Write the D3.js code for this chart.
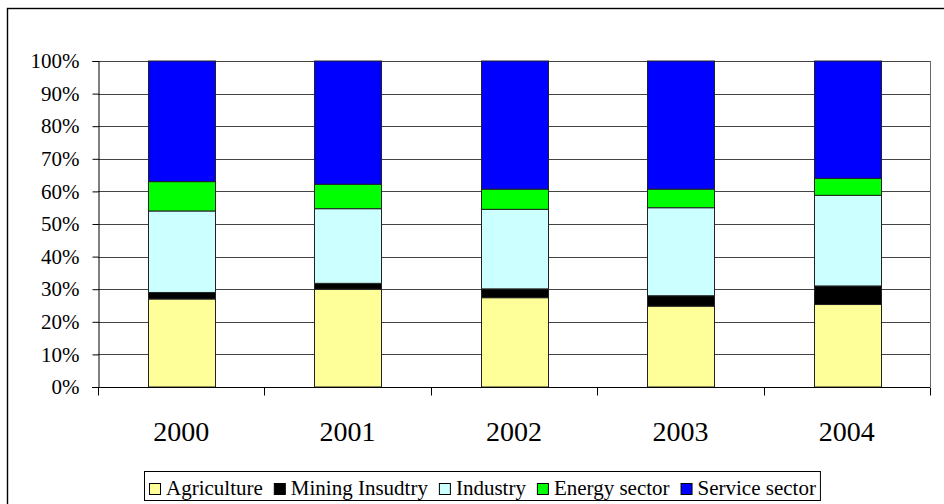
<!DOCTYPE html>
<html>
<head>
<meta charset="utf-8">
<script src="https://cdn.jsdelivr.net/npm/d3@7"></script>
<style>
  body { margin: 0; background: #fff; }
  svg { display: block; }
  text { font-family: "Liberation Serif", "Times New Roman", serif; }
</style>
</head>
<body>
<script>
// ---------------- 100% stacked bars, sectors by year ----------------
let years       = ["2000", "2001", "2002", "2003", "2004"];
let sectors     = ["Agriculture", "Mining Insudtry", "Industry", "Energy sector", "Service sector"];
let agriculture = [27.0, 30.0, 27.4, 24.8, 25.3];
let mining      = [2.0, 1.8, 2.7, 3.2, 5.7];
let industry    = [25.0, 22.9, 24.4, 27.0, 27.8];
let energy      = [9.0, 7.5, 6.2, 5.7, 5.2];
let service     = [37.0, 37.8, 39.3, 39.3, 36.0];
let yTicks      = [0, 10, 20, 30, 40, 50, 60, 70, 80, 90, 100];
let colors      = ["#FFFF99", "#000000", "#CCFFFF", "#00FF00", "#0000FF"];

let w = 944, h = 504;
let margin = {left: 98, right: 14, top: 61, bottom: 117};
let serif = "'Liberation Serif', 'Times New Roman', serif";

let table = years.map((y, i) => ({
    year: y,
    "Agriculture": agriculture[i],
    "Mining Insudtry": mining[i],
    "Industry": industry[i],
    "Energy sector": energy[i],
    "Service sector": service[i]
}));

let stacked = d3.stack().keys(sectors).offset(d3.stackOffsetExpand)(table);

let svg = d3.select("body")
    .append("svg")
    .attr("width", w)
    .attr("height", h);

// outer chart frame (runs off the right and bottom edge)
svg.append("rect")
    .attr("x", 7.5).attr("y", 8.5)
    .attr("width", 1000).attr("height", 1000)
    .attr("fill", "white")
    .attr("stroke", "black")
    .attr("stroke-width", 1.4);

let x = d3.scaleBand()
    .domain(years)
    .range([margin.left, w - margin.right])
    .paddingInner(0.6)
    .paddingOuter(0.3);

let y = d3.scaleLinear()
    .domain([0, 1])
    .range([h - margin.bottom, margin.top]);

// gridlines
svg.append("g")
    .selectAll("line")
    .data(yTicks.slice(1))
    .enter()
    .append("line")
        .attr("x1", margin.left)
        .attr("x2", w - margin.right)
        .attr("y1", d => Math.round(y(d / 100)) + 0.5)
        .attr("y2", d => Math.round(y(d / 100)) + 0.5)
        .attr("stroke", "#444")
        .attr("stroke-width", 1);

// right plot border
svg.append("line")
    .attr("x1", w - margin.right + 0.5).attr("x2", w - margin.right + 0.5)
    .attr("y1", margin.top).attr("y2", h - margin.bottom)
    .attr("stroke", "#666");

// bars
svg.append("g")
    .selectAll("g")
    .data(stacked)
    .enter()
    .append("g")
        .attr("fill", (d, i) => colors[i])
    .selectAll("rect")
    .data(d => d)
    .enter()
    .append("rect")
        .attr("x", d => Math.round(x(d.data.year)) + 0.5)
        .attr("y", d => y(d[1]))
        .attr("width", Math.round(x.bandwidth()))
        .attr("height", d => y(d[0]) - y(d[1]))
        .attr("stroke", "#222")
        .attr("stroke-width", 1);

// y axis
let yAxis = d3.axisLeft(y)
    .tickValues(yTicks.map(d => d / 100))
    .tickFormat(d => Math.round(d * 100) + "%")
    .tickSize(6)
    .tickPadding(13);

svg.append("g")
    .attr("transform", `translate(${margin.left + 0.5},0)`)
    .call(yAxis)
    .attr("font-family", null)
    .call(g => g.select(".domain").attr("stroke", "black"))
    .call(g => g.selectAll(".tick line").attr("stroke", "black"))
    .call(g => g.selectAll("text")
        .style("font-family", serif)
        .style("font-size", "21px")
        .attr("fill", "black"));

// x axis: line + ticks at category boundaries
let base = Math.round(y(0)) + 0.5;
svg.append("line")
    .attr("x1", margin.left - 6).attr("x2", w - margin.right)
    .attr("y1", base).attr("y2", base)
    .attr("stroke", "black");

let bounds = d3.range(years.length + 1).map(i => margin.left + i * (w - margin.left - margin.right) / years.length);
svg.append("g")
    .selectAll("line")
    .data(bounds)
    .enter()
    .append("line")
        .attr("x1", d => Math.round(d) + 0.5)
        .attr("x2", d => Math.round(d) + 0.5)
        .attr("y1", base)
        .attr("y2", base + 8)
        .attr("stroke", "black");

svg.append("g")
    .selectAll("text")
    .data(years)
    .enter()
    .append("text")
        .text(d => d)
        .attr("x", d => x(d) + x.bandwidth() / 2)
        .attr("y", 441)
        .attr("text-anchor", "middle")
        .style("font-family", serif)
        .style("font-size", "28px")
        .attr("fill", "black");

// legend
let legend = svg.append("g");
let lx = 149, ly = 478, box = 11;
let items = legend.selectAll("g")
    .data(sectors)
    .enter()
    .append("g");

items.append("text")
    .text(d => d)
    .style("font-family", serif)
    .style("font-size", "21px")
    .attr("fill", "black")
    .attr("y", ly + 17);

let cursor = lx;
items.each(function(d, i) {
    let g = d3.select(this);
    let tw = g.select("text").node().getComputedTextLength();
    g.append("rect")
        .attr("x", cursor + 0.5).attr("y", ly + 5.5)
        .attr("width", box).attr("height", box)
        .attr("fill", colors[i])
        .attr("stroke", "black");
    g.select("text").attr("x", cursor + box + 6);
    cursor += box + 6 + tw + 11;
});

legend.insert("rect", ":first-child")
    .attr("x", 144.5).attr("y", 471.5)
    .attr("width", cursor - 144 - 7).attr("height", 29)
    .attr("fill", "white")
    .attr("stroke", "black");
</script>
</body>
</html>
